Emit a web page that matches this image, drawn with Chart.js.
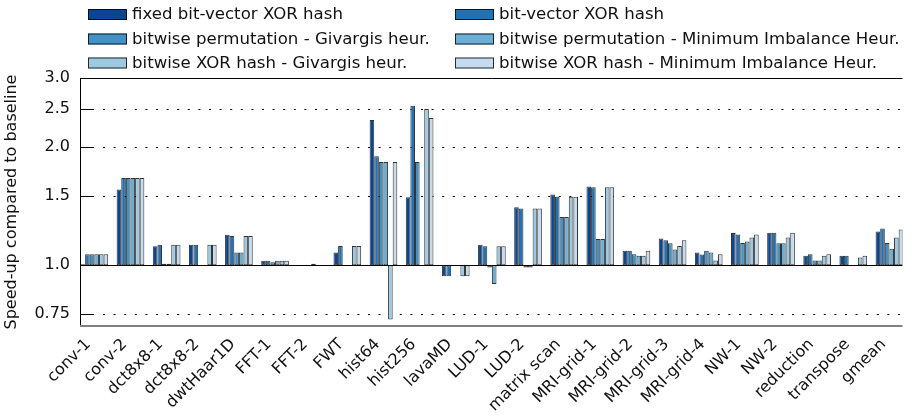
<!DOCTYPE html>
<html>
<head>
<meta charset="utf-8">
<script src="https://cdn.jsdelivr.net/npm/chart.js@4/dist/chart.umd.min.js"></script>
<style>
  html, body { margin: 0; padding: 0; background: #fff; overflow: hidden; }
  #wrap { width: 912px; height: 416px; position: relative; }
</style>
</head>
<body>
<div id="wrap"><canvas id="speedupChart"></canvas></div>
<script>
const benchmarks = ['conv-1', 'conv-2', 'dct8x8-1', 'dct8x8-2', 'dwtHaar1D', 'FFT-1', 'FFT-2', 'FWT',
  'hist64', 'hist256', 'lavaMD', 'LUD-1', 'LUD-2', 'matrix scan', 'MRI-grid-1', 'MRI-grid-2',
  'MRI-grid-3', 'MRI-grid-4', 'NW-1', 'NW-2', 'reduction', 'transpose', 'gmean'];

const seriesNames = ['fixed bit-vector XOR hash', 'bit-vector XOR hash',
  'bitwise permutation - Givargis heur.', 'bitwise permutation - Minimum Imbalance Heur.',
  'bitwise XOR hash - Givargis heur.', 'bitwise XOR hash - Minimum Imbalance Heur.'];

const fixedXor     = [1.005, 1.56, 1.117, 1.128, 1.196, 1.026, 1.0, 1.078, 2.344, 1.491, 0.937, 1.128, 1.405, 1.515, 1.588, 1.089, 1.169, 1.078, 1.208, 1.21, 1.057, 1.057, 1.218];
const bitVectorXor = [1.067, 1.668, 1.128, 1.128, 1.187, 1.026, 1.0, 1.119, 1.896, 2.55, 0.937, 1.117, 1.395, 1.494, 1.579, 1.089, 1.157, 1.065, 1.197, 1.21, 1.067, 1.057, 1.24];
const permGivargis = [1.067, 1.668, 1.008, 1.0, 1.078, 1.018, 1.0, 1.0, 1.833, 1.833, 1.0, 0.986, 0.986, 1.327, 1.166, 1.067, 1.137, 1.089, 1.139, 1.137, 1.028, 1.0, 1.139];
const permMinImb   = [1.067, 1.668, 1.008, 1.0, 1.078, 1.026, 1.008, 1.0, 1.833, 1.0, 1.0, 0.896, 0.986, 1.327, 1.166, 1.057, 1.097, 1.078, 1.15, 1.137, 1.028, 1.0, 1.102];
const xorGivargis  = [1.067, 1.668, 1.128, 1.128, 1.187, 1.026, 1.0, 1.119, 0.727, 2.50, 0.937, 1.117, 1.395, 1.494, 1.579, 1.057, 1.119, 1.028, 1.177, 1.177, 1.057, 1.046, 1.177];
const xorMinImb    = [1.067, 1.668, 1.128, 1.128, 1.187, 1.026, 1.0, 1.119, 1.833, 2.372, 0.937, 1.117, 1.395, 1.494, 1.579, 1.089, 1.157, 1.067, 1.197, 1.21, 1.067, 1.057, 1.234];

const yTicks = [0.75, 1.0, 1.5, 2.0, 2.5, 3.0];

const seriesValues = [fixedXor, bitVectorXor, permGivargis, permMinImb, xorGivargis, xorMinImb];
const blues = ['#084594', '#2171b5', '#4292c6', '#6baed6', '#9ecae1', '#c6dbef'];
const FONT = '"DejaVu Sans", sans-serif';

// dotted grid, inner tick marks and the plot frame
const framePlugin = {
  id: 'frame',
  beforeDatasetsDraw(chart) {
    const { ctx, chartArea: a, scales: { y } } = chart;
    ctx.save();
    ctx.strokeStyle = '#000';
    ctx.lineWidth = 1;
    yTicks.forEach(v => {
      if (v === 1 || v === 3) return;
      const py = Math.round(y.getPixelForValue(v)) + 0.5;
      ctx.setLineDash([]);
      ctx.beginPath();
      ctx.moveTo(a.left, py);
      ctx.lineTo(a.left + 14, py);
      ctx.stroke();
      ctx.setLineDash([2, 8.6]);
      ctx.beginPath();
      ctx.moveTo(a.left + 23, py);
      ctx.lineTo(a.right, py);
      ctx.stroke();
    });
    ctx.restore();
  },
  afterDatasetsDraw(chart) {
    const { ctx, chartArea: a, scales: { y } } = chart;
    ctx.save();
    ctx.strokeStyle = '#000';
    ctx.lineWidth = 1;
    const p1 = Math.round(y.getPixelForValue(1)) + 0.5;
    ctx.beginPath();
    ctx.moveTo(a.left, p1);
    ctx.lineTo(a.right, p1);
    ctx.moveTo(a.left, a.top + 0.5);
    ctx.lineTo(a.right, a.top + 0.5);
    ctx.moveTo(a.left + 0.5, a.top);
    ctx.lineTo(a.left + 0.5, a.bottom);
    ctx.stroke();
    ctx.strokeStyle = '#808080';
    ctx.lineWidth = 2;
    ctx.beginPath();
    ctx.moveTo(a.left, a.bottom);
    ctx.lineTo(a.right, a.bottom);
    ctx.stroke();
    ctx.restore();
  }
};

// two-column legend above the plot
const legendPlugin = {
  id: 'gridLegend',
  afterDraw(chart) {
    const { ctx } = chart;
    const colX = [88, 455];
    const rowY = [14, 38.5, 62.5];
    ctx.save();
    ctx.font = '16.6px ' + FONT;
    ctx.textBaseline = 'middle';
    chart.data.datasets.forEach((ds, i) => {
      const x = colX[i % 2];
      const yc = rowY[Math.floor(i / 2)];
      ctx.fillStyle = ds.backgroundColor;
      ctx.fillRect(x, yc - 5, 39, 11);
      ctx.strokeStyle = 'rgba(0,0,0,0.8)';
      ctx.lineWidth = 1;
      ctx.strokeRect(x + 0.5, yc - 4.5, 38, 10);
      ctx.fillStyle = '#111';
      ctx.fillText(ds.label, x + 44, yc + 1);
    });
    ctx.restore();
  }
};

new Chart(document.getElementById('speedupChart'), {
  type: 'bar',
  data: {
    datasets: seriesNames.map((name, i) => ({
      label: name,
      data: seriesValues[i].map((v, k) => ({ x: k, y: v })),
      base: 1,
      backgroundColor: blues[i],
      borderColor: 'rgba(0,0,0,0.8)',
      borderWidth: 1,
      borderSkipped: false,
      categoryPercentage: 0.766,
      barPercentage: 1
    }))
  },
  options: {
    responsive: true,
    maintainAspectRatio: false,
    animation: false,
    devicePixelRatio: 1,
    layout: { padding: { top: 78, left: 0, right: 0, bottom: 0 } },
    plugins: { legend: { display: false }, tooltip: { enabled: false } },
    scales: {
      x: {
        type: 'linear',
        offset: false,
        min: -0.397,
        max: 22.36,
        grid: { display: false, drawTicks: false },
        border: { display: false },
        afterBuildTicks: s => { s.ticks = benchmarks.map((_, i) => ({ value: i })); },
        afterFit: s => { s.height = 90; },
        ticks: {
          autoSkip: false,
          minRotation: 45,
          maxRotation: 45,
          padding: 9,
          labelOffset: -6,
          color: '#111',
          font: { family: FONT, size: 16 },
          callback: v => benchmarks[v]
        }
      },
      y: {
        type: 'logarithmic',
        min: 0.7,
        max: 3.0,
        grid: { display: false, drawTicks: false },
        border: { display: false },
        afterBuildTicks: s => { s.ticks = yTicks.map(v => ({ value: v })); },
        afterFit: s => { s.width = 80; },
        ticks: {
          padding: 10,
          color: '#111',
          font: { family: FONT, size: 16 },
          callback: v => v === 0.75 ? '0.75' : Number(v).toFixed(1)
        },
        title: {
          display: true,
          text: 'Speed-up compared to baseline',
          color: '#111',
          font: { family: FONT, size: 16 },
          padding: { top: 2, bottom: 0 }
        }
      }
    }
  },
  plugins: [framePlugin, legendPlugin]
});
</script>
</body>
</html>
